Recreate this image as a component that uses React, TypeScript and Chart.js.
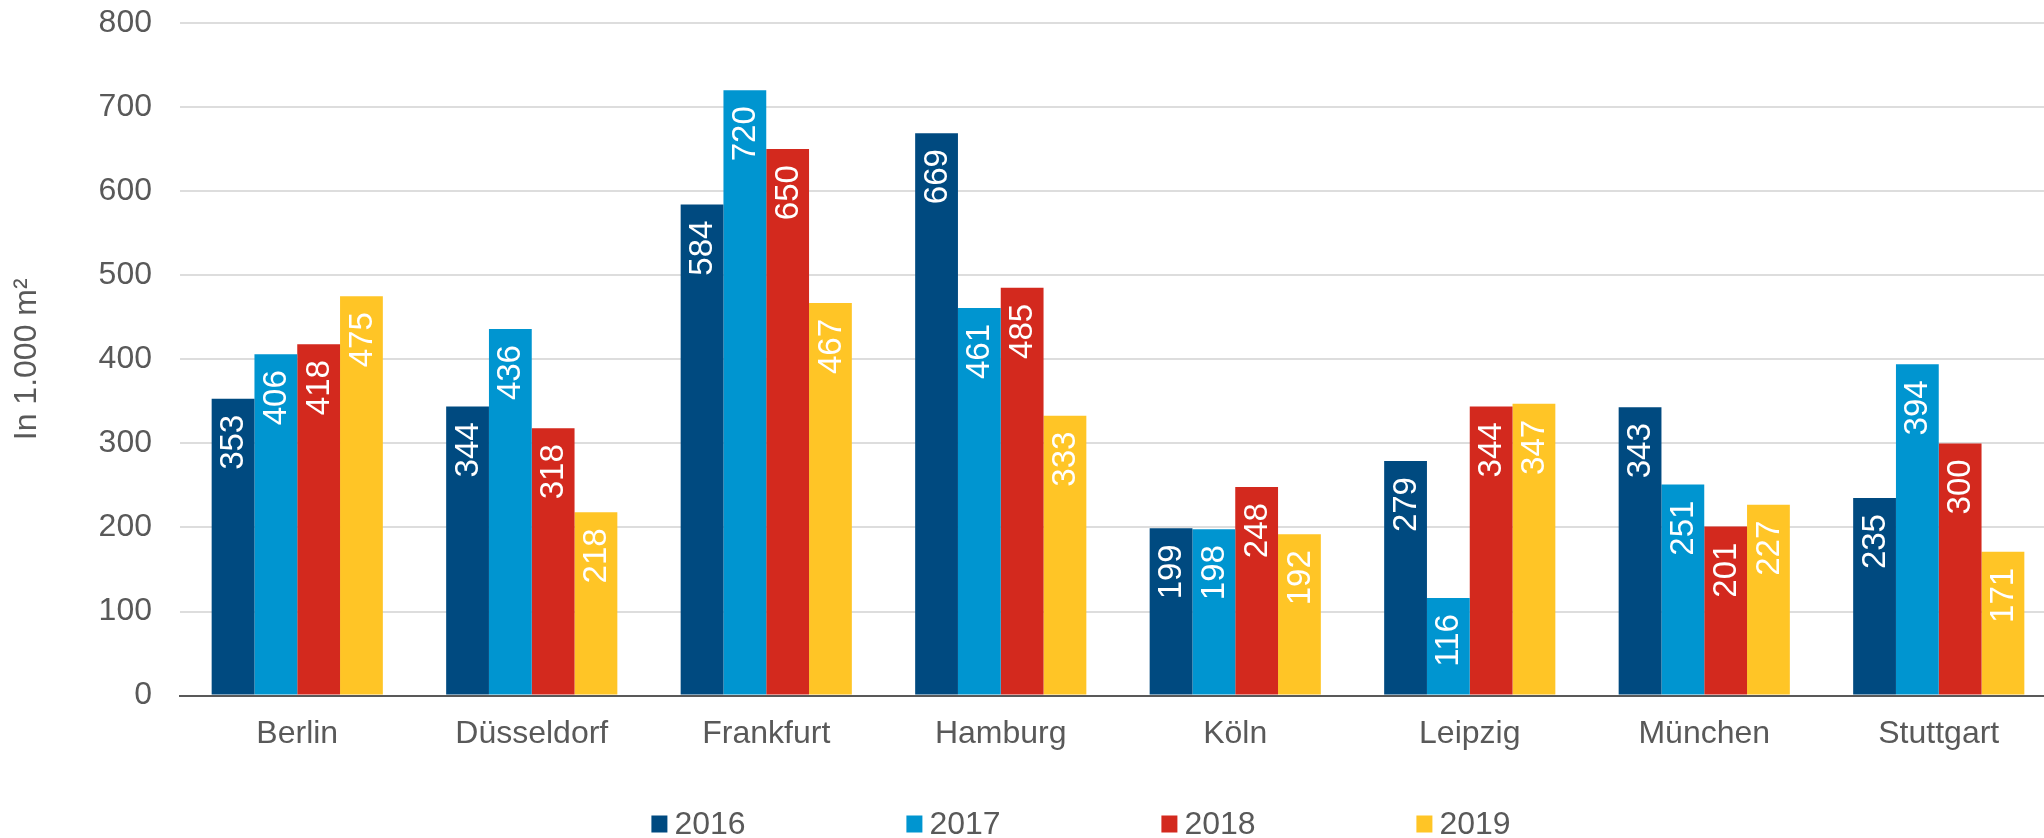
import React, { useEffect, useRef } from "react";
import { Chart, registerables } from "chart.js";

Chart.register(...registerables);

const categories = ["Berlin", "Düsseldorf", "Frankfurt", "Hamburg", "Köln", "Leipzig", "München", "Stuttgart"];
const years = ["2016", "2017", "2018", "2019"];
const values2016 = [353, 344, 584, 669, 199, 279, 343, 235];
const values2017 = [406, 436, 720, 461, 198, 116, 251, 394];
const values2018 = [418, 318, 650, 485, 248, 344, 201, 300];
const values2019 = [475, 218, 467, 333, 192, 347, 227, 171];
const colors = ["#004A80", "#0095D0", "#D3291E", "#FFC526"];
const yTitle = "In 1.000 m²";

const FONT = "'Liberation Sans', Arial, sans-serif";
const TEXT = "#595959";

const barLabelPlugin = {
  id: "barLabels",
  afterDatasetsDraw(chart: any) {
    const ctx = chart.ctx;
    ctx.save();
    ctx.fillStyle = "#ffffff";
    ctx.font = `33px ${FONT}`;
    ctx.textAlign = "right";
    ctx.textBaseline = "middle";
    chart.data.datasets.forEach((ds: any, i: number) => {
      const meta = chart.getDatasetMeta(i);
      meta.data.forEach((bar: any, j: number) => {
        ctx.save();
        ctx.translate(bar.x, bar.y + 16);
        ctx.rotate(-Math.PI / 2);
        ctx.fillText(String(ds.data[j]), 0, 1);
        ctx.restore();
      });
    });
    ctx.restore();
  },
};

const customLegendPlugin = {
  id: "customLegend",
  afterDraw(chart: any) {
    const ctx = chart.ctx;
    ctx.save();
    ctx.font = `32px ${FONT}`;
    ctx.textBaseline = "middle";
    ctx.textAlign = "left";
    const spacing = 255;
    const boxW = 16;
    const boxH = 17;
    const gap = 7;
    const items = chart.data.datasets.map((d: any) => d.label);
    const lastW = boxW + gap + ctx.measureText(items[items.length - 1]).width;
    const total = spacing * (items.length - 1) + lastW;
    const centerX = chart.width / 2 + 53;
    const cy = 824;
    let x = centerX - total / 2;
    chart.data.datasets.forEach((d: any) => {
      ctx.fillStyle = d.backgroundColor;
      ctx.fillRect(x, cy - boxH / 2, boxW, boxH);
      ctx.fillStyle = TEXT;
      ctx.fillText(d.label, x + boxW + gap, cy + 1);
      x += spacing;
    });
    ctx.restore();
  },
};

export default function App() {
  const ref = useRef<HTMLCanvasElement | null>(null);
  useEffect(() => {
    if (!ref.current) return;
    const series = [values2016, values2017, values2018, values2019];
    const chart = new Chart(ref.current, {
      type: "bar",
      data: {
        labels: categories,
        datasets: series.map((vals, i) => ({
          label: years[i],
          data: vals,
          backgroundColor: colors[i],
          borderWidth: 0,
          barPercentage: 1,
          categoryPercentage: 0.73,
        })),
      },
      options: {
        animation: false,
        responsive: true,
        maintainAspectRatio: false,
        layout: { padding: { top: 23, bottom: 74, left: 0, right: 0 } },
        plugins: {
          legend: { display: false },
          tooltip: { enabled: false },
        },
        scales: {
          x: {
            grid: { display: false },
            border: { display: true, color: "#595959", width: 2 },
            ticks: { color: TEXT, font: { family: FONT, size: 32 }, padding: 11, maxRotation: 0 },
          },
          y: {
            min: 0,
            max: 800,
            afterFit: (s: any) => {
              s.width = 180;
              s.paddingTop = 0;
              s.paddingBottom = 0;
            },
            ticks: { stepSize: 100, color: TEXT, font: { family: FONT, size: 32 }, padding: 28 },
            grid: { color: "#DDDDDD", lineWidth: 2, drawTicks: false },
            border: { display: false },
            title: {
              display: true,
              text: yTitle,
              color: TEXT,
              font: { family: FONT, size: 32 },
              padding: { top: 8, bottom: 0 },
            },
          },
        },
      },
      plugins: [barLabelPlugin, customLegendPlugin],
    });
    return () => chart.destroy();
  }, []);
  return (
    <div style={{ position: "absolute", left: 0, top: 0, width: 2044, height: 838, overflow: "hidden", background: "#fff" }}>
      <div style={{ position: "relative", width: 2056, height: 838 }}>
        <canvas ref={ref} />
      </div>
    </div>
  );
}
